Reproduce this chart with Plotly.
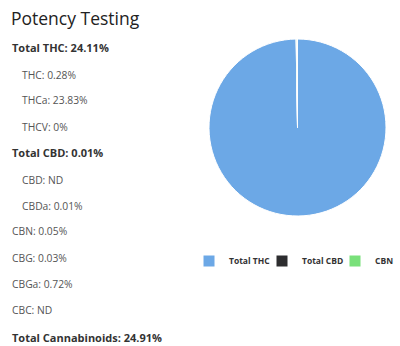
import plotly.graph_objects as go

# Cannabinoid breakdown (percent by weight)
report_title = "Potency Testing"
row_labels = ["Total THC", "THC", "THCa", "THCV", "Total CBD", "CBD", "CBDa",
              "CBN", "CBG", "CBGa", "CBC", "Total Cannabinoids"]
row_values = ["24.11%", "0.28%", "23.83%", "0%", "0.01%", "ND", "0.01%",
              "0.05%", "0.03%", "0.72%", "ND", "24.91%"]
row_bold = [True, False, False, False, True, False, False,
            False, False, False, False, True]
row_indent = [False, True, True, True, False, True, True,
              False, False, False, False, False]

# Pie slices
pie_labels = ["Total THC", "Total CBD", "CBN"]
pie_values = [24.11, 0.01, 0.05]
pie_colors = ["#6ca8e6", "#2d2d2f", "#79e07a"]

W, H = 400, 346


def px_x(v):
    return v / W


def px_y(v):
    return 1 - v / H


fig = go.Figure()
fig.add_trace(go.Pie(
    labels=pie_labels,
    values=pie_values,
    sort=False,
    direction="clockwise",
    rotation=0,
    marker=dict(colors=pie_colors, line=dict(color="white", width=1)),
    textinfo="none",
    domain=dict(x=[px_x(209), px_x(386)], y=[px_y(216), px_y(39)]),
))

annotations = [dict(
    text=report_title, x=px_x(9), y=px_y(18), xref="paper", yref="paper",
    xanchor="left", yanchor="middle", showarrow=False,
    font=dict(family="Open Sans", size=17.5, color="#222222"),
)]

row_y = [48, 75, 100, 127, 153, 180, 206, 231, 258, 284, 310, 337]
for lab, val, bold, indent, y in zip(row_labels, row_values, row_bold, row_indent, row_y):
    txt = f"{lab}: {val}"
    if bold:
        txt = f"<b>{txt}</b>"
    annotations.append(dict(
        text=txt, x=px_x(20 if indent else 10), y=px_y(y),
        xref="paper", yref="paper", xanchor="left", yanchor="middle",
        showarrow=False,
        font=dict(family="Open Sans", size=11 if bold else 10.3,
                  color="#333333" if bold else "#555555"),
    ))

fig.update_layout(
    width=W, height=H,
    margin=dict(l=0, r=0, t=0, b=0, autoexpand=False),
    paper_bgcolor="white",
    plot_bgcolor="white",
    annotations=annotations,
    showlegend=True,
    legend=dict(
        orientation="h",
        x=px_x(189), y=px_y(261), xanchor="left", yanchor="middle",
        font=dict(family="Open Sans", size=8.5, color="#333333", weight="bold"),
        itemwidth=30,
        entrywidth=28,
        tracegroupgap=0,
    ),
)

fig.write_html("out.html")
